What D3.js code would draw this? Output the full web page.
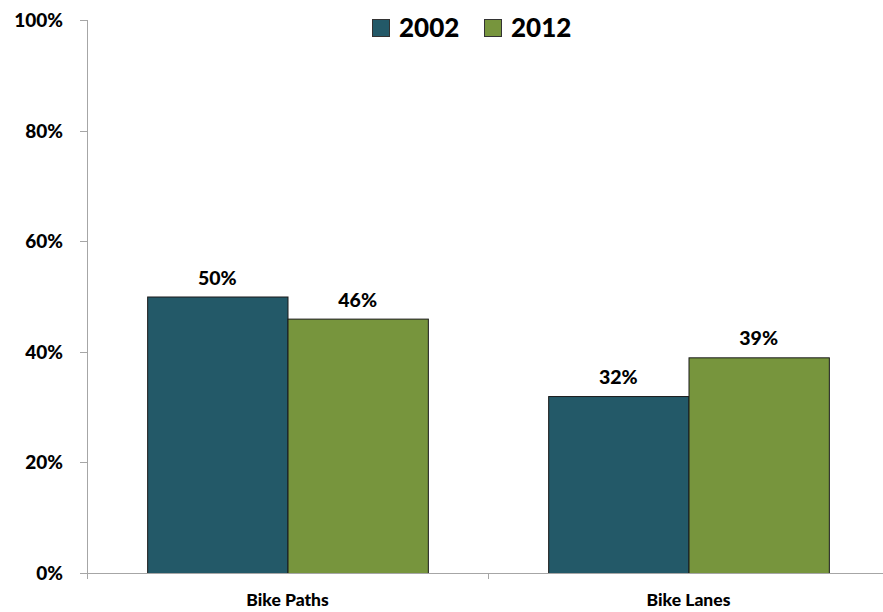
<!DOCTYPE html>
<html><head><meta charset="utf-8">
<script src="https://cdn.jsdelivr.net/npm/d3@7"></script>
<style>body{margin:0;background:#fff}svg{display:block;font-family:Lato,"Open Sans",sans-serif;font-weight:900}</style>
</head><body><svg id="c" width="883" height="612"></svg>
<script>
const categories = ["Bike Paths", "Bike Lanes"];
const seriesNames = ["2002", "2012"];
const values2002 = [50, 32];
const values2012 = [46, 39];
const yTicks = [0, 20, 40, 60, 80, 100];
const colors = ["#235968", "#77953d"];

(function(){
const svg = d3.select("#c");
const mLeft = 87, mRight = 889, mTop = 20, mBottom = 573;
const x = d3.scaleBand().domain(categories).range([mLeft, mRight]).paddingInner(0).paddingOuter(0);
const inner = d3.scaleBand().domain(seriesNames).range([x.bandwidth()*0.15, x.bandwidth()*0.85]);
const y = d3.scaleLinear().domain([0, 100]).range([mBottom, mTop]);
const series = [values2002, values2012];

svg.append("line").attr("x1", mLeft+0.5).attr("x2", mLeft+0.5).attr("y1", y(100)).attr("y2", mBottom).attr("stroke", "#a6a6a6");
svg.selectAll(".yt").data(yTicks).enter().append("line")
  .attr("x1", mLeft-7).attr("x2", mLeft).attr("y1", d => Math.round(y(d))+0.5).attr("y2", d => Math.round(y(d))+0.5).attr("stroke", "#a6a6a6");
svg.selectAll(".yl").data(yTicks).enter().append("text")
  .attr("x", 63).attr("y", d => y(d)+7).attr("text-anchor", "end").attr("font-size", 19).attr("fill", "#000")
  .text(d => d + "%");

categories.forEach((c, i) => {
  seriesNames.forEach((s, j) => {
    const v = series[j][i];
    const bx = x(c) + inner(s);
    svg.append("rect").attr("x", bx+0.5).attr("y", y(v)+0.5).attr("width", inner.bandwidth()).attr("height", mBottom - y(v))
      .attr("fill", colors[j]).attr("stroke", "#1a1a1a").attr("stroke-width", 1);
    svg.append("text").attr("x", bx + inner.bandwidth()/2).attr("y", y(v) - 12).attr("text-anchor", "middle")
      .attr("font-size", 19.5).attr("fill", "#000").text(v + "%");
  });
});

svg.append("line").attr("x1", mLeft).attr("x2", 883).attr("y1", mBottom+0.5).attr("y2", mBottom+0.5).attr("stroke", "#a6a6a6");
const xt = [mLeft, x(categories[1])];
svg.selectAll(".xt").data(xt).enter().append("line")
  .attr("x1", d => Math.round(d)+0.5).attr("x2", d => Math.round(d)+0.5).attr("y1", mBottom).attr("y2", mBottom+6).attr("stroke", "#a6a6a6");
svg.selectAll(".xl").data(categories).enter().append("text")
  .attr("x", d => x(d) + x.bandwidth()/2).attr("y", 606).attr("text-anchor", "middle").attr("font-size", 17.5).attr("fill", "#000")
  .text(d => d);

const legX = [372, 484];
seriesNames.forEach((s, j) => {
  svg.append("rect").attr("x", legX[j]+0.5).attr("y", 19.5).attr("width", 17).attr("height", 17)
    .attr("fill", colors[j]).attr("stroke", "#333");
  svg.append("text").attr("x", legX[j] + 27).attr("y", 37).attr("font-size", 26).attr("fill", "#000").text(s);
});
})();
</script></body></html>
